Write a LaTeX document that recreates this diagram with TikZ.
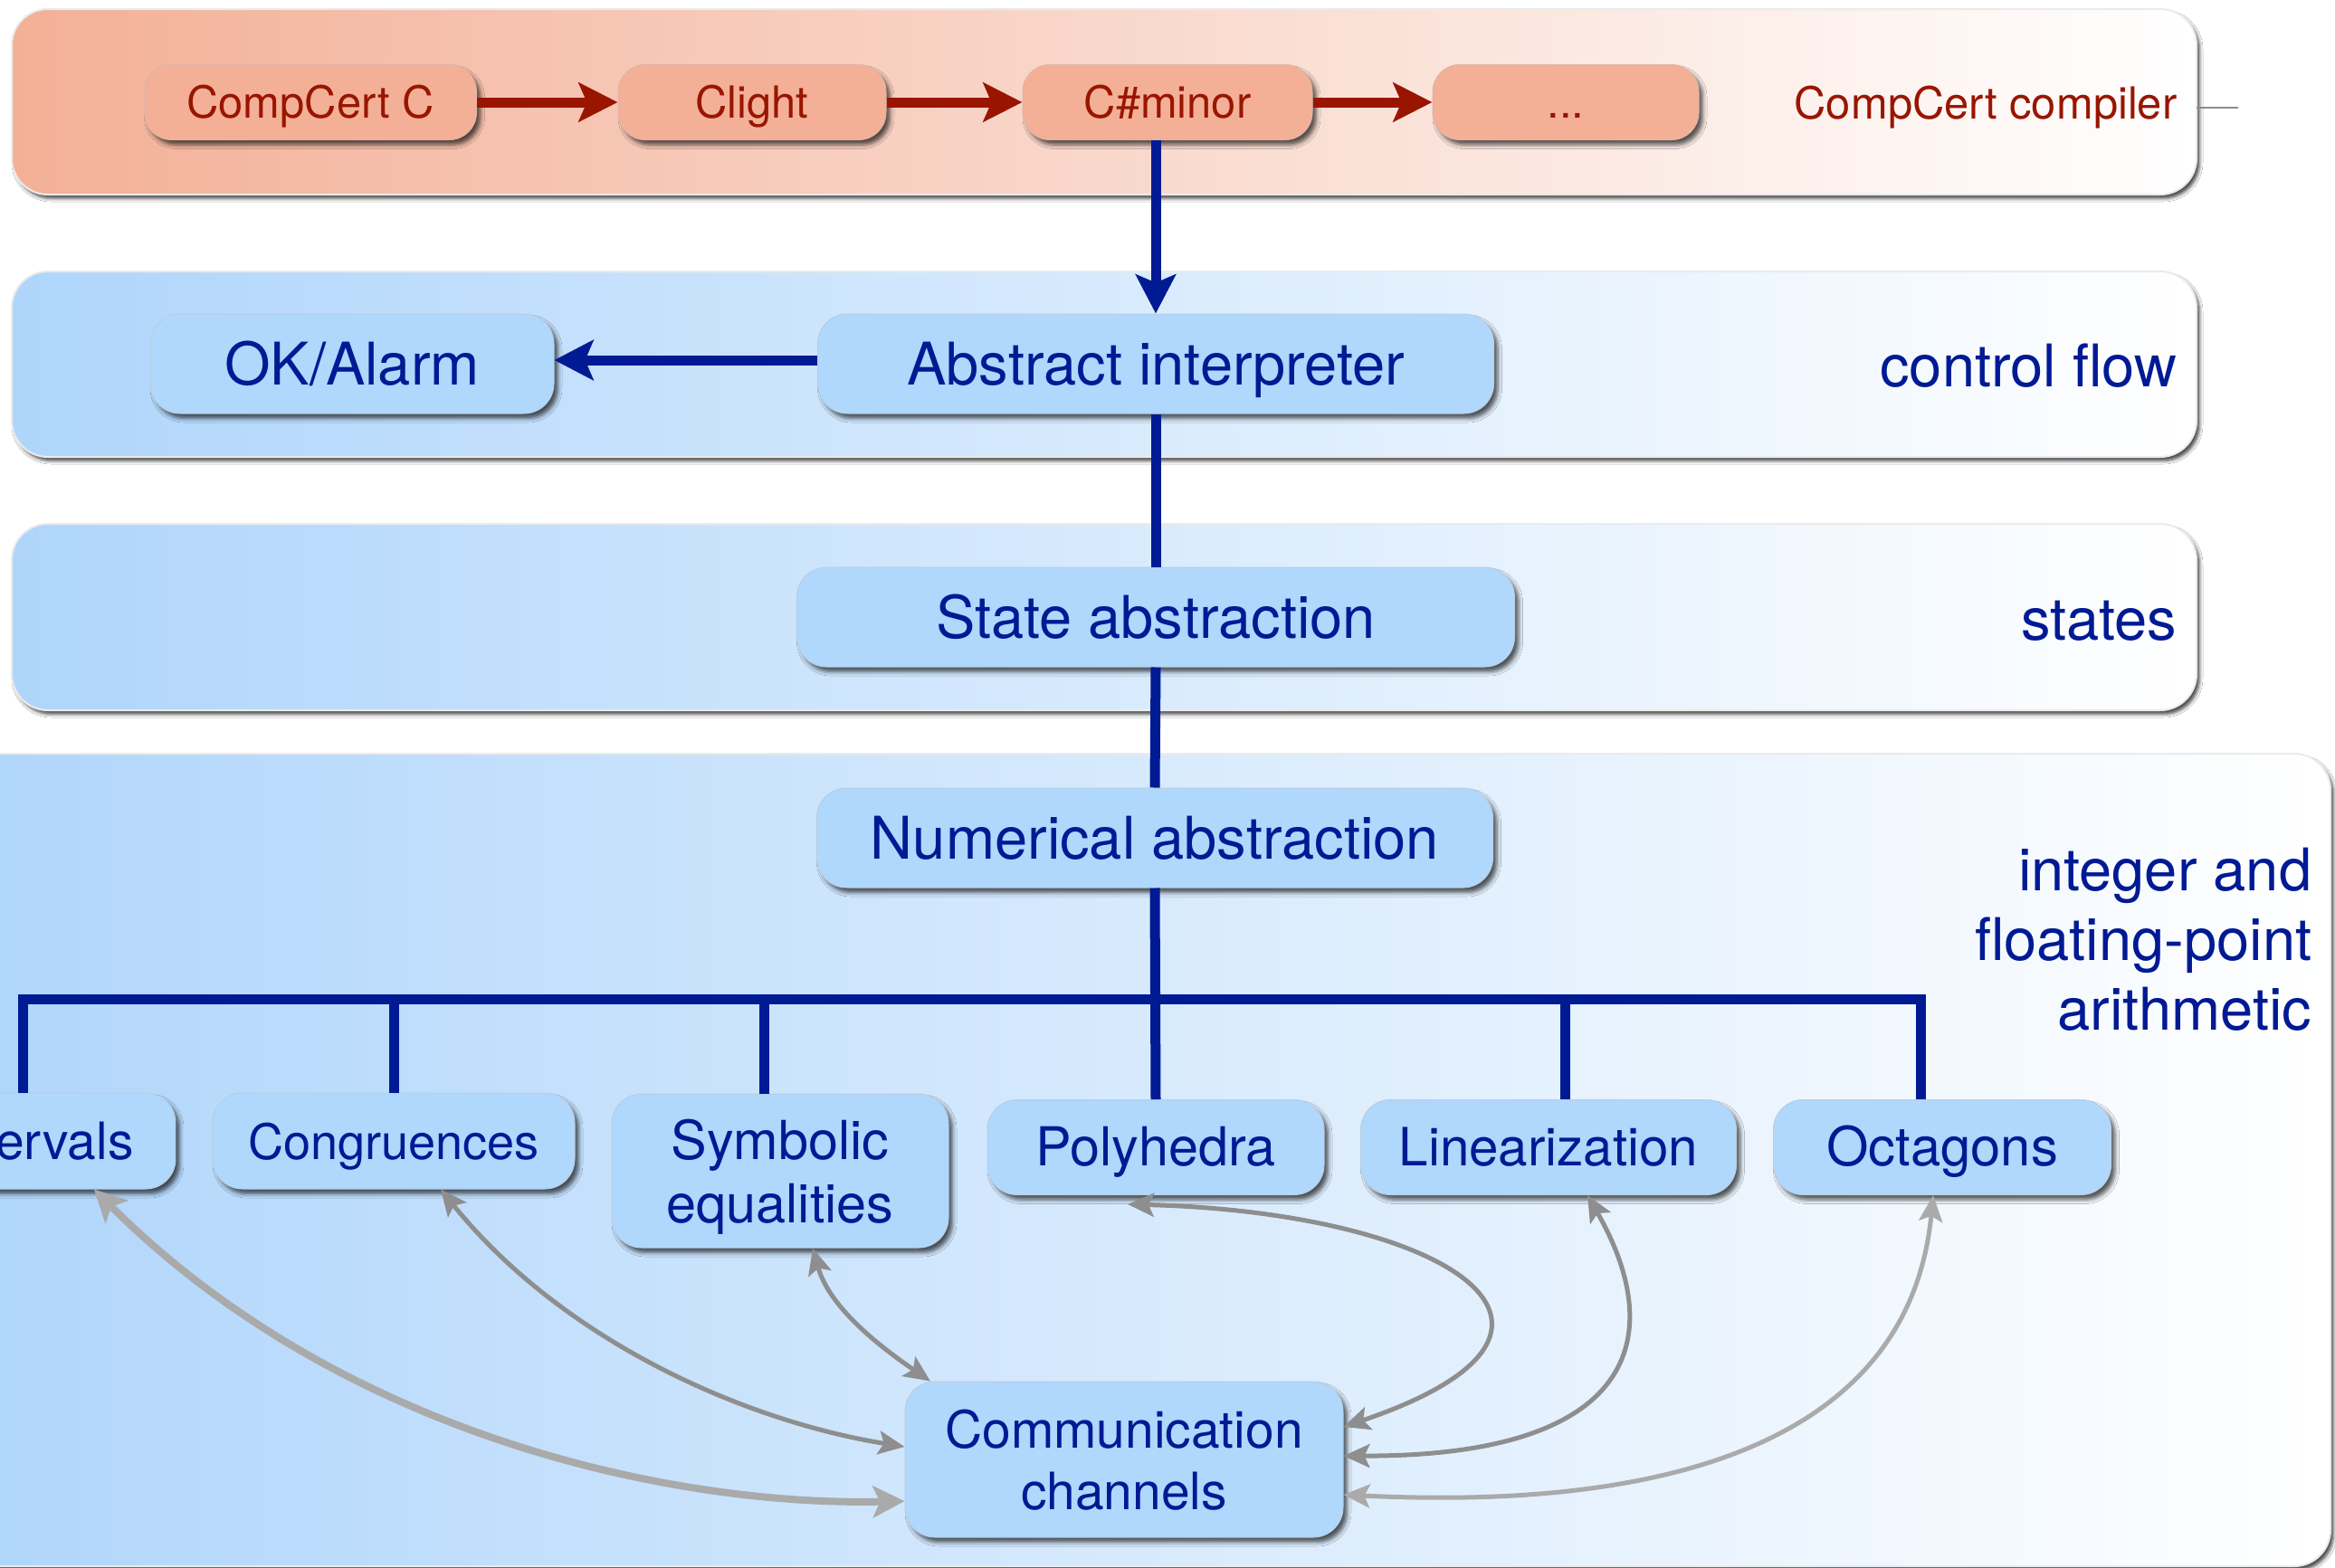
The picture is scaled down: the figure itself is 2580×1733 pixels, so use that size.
\documentclass[tikz,border=0pt]{standalone}
\usepackage{fontspec}
\setmainfont{TeX Gyre Heros}
\usetikzlibrary{arrows.meta,shadows.blur}

\definecolor{bandblue}{HTML}{AFD5FB}
\definecolor{nodeblue}{HTML}{B0D7FC}
\definecolor{inkblue}{HTML}{001A94}
\definecolor{salmon}{HTML}{F3B097}
\definecolor{inkred}{HTML}{991500}
\definecolor{linkdark}{HTML}{8E8E8E}
\definecolor{linklight}{HTML}{AAAAAA}

\newcommand\fsTop{\fontsize{13.9pt}{16pt}\selectfont}
\newcommand\fsMid{\fontsize{18.5pt}{22pt}\selectfont}
\newcommand\fsLowAt[1]{\fontsize{#1}{19.8pt}\selectfont}

\tikzset{
  layer/.style={rounded corners=4mm, draw=black!8, line width=0.2mm,
    right color=white,
    blur shadow={shadow xshift=0.35mm, shadow yshift=-0.45mm,
      shadow blur radius=0.35mm, shadow blur steps=4, shadow opacity=70}},
  boxbase/.style={rounded corners=3.3mm, inner sep=0pt, align=center, text depth=0pt,
    blur shadow={shadow xshift=0.45mm, shadow yshift=-0.55mm,
      shadow blur radius=0.45mm, shadow blur steps=4, shadow opacity=65}},
  twolines/.style={text height={}, text depth=0pt},
  passbox/.style={boxbase, fill=salmon, draw=salmon!85!black!70, line width=0.1mm,
    text=inkred, font=\fsTop, text height=10pt, minimum height=8.3mm, rounded corners=3mm},
  midbox/.style={boxbase, fill=nodeblue, draw=nodeblue!80!black!60, line width=0.1mm,
    text=inkblue, font=\fsMid, text height=13.3pt, minimum height=11mm},
  lowbox/.style={boxbase, fill=nodeblue, draw=nodeblue!80!black!60, line width=0.1mm,
    text=inkblue, font={\fsLowAt{16.2pt}}, text height=11.9pt, minimum height=10.6mm},
  tag/.style={anchor=east, inner sep=0pt, align=right, text depth=0pt},
  redflow/.style={draw=inkred, line width=1.1mm,
    -{Stealth[length=4.3mm, width=4.3mm, inset=0.9mm]}},
  blueflow/.style={draw=inkblue, line width=1.1mm},
  bluearrow/.style={blueflow, -{Stealth[length=4.3mm, width=4.4mm, inset=0.9mm]}},
  link/.style={draw=linkdark, line width=0.5mm,
    {Stealth[length=2.9mm, width=2.6mm, inset=0.6mm]}-{Stealth[length=2.9mm, width=2.6mm, inset=0.6mm]}},
  thicklink/.style={draw=linklight, line width=0.8mm,
    {Stealth[length=3.5mm, width=3.5mm, inset=0.8mm]}-{Stealth[length=3.5mm, width=3.5mm, inset=0.8mm]}},
}

\begin{document}
\begin{tikzpicture}[x=0.1mm, y=-0.1mm]
\useasboundingbox (0,0) rectangle (2580,1733);
\clip (0,0) rectangle (2580,1733);
\fill[white] (0,0) rectangle (2580,1733);

% the four layers
\path[layer, left color=salmon] (13,10) rectangle (2427,215);
\path[layer, left color=bandblue] (13,300) rectangle (2427,505);
\path[layer, left color=bandblue] (13,579) rectangle (2427,785);
\path[layer, left color=bandblue] (-60,833) rectangle (2575,1731);
\draw[black!45, line width=0.2mm] (2427,119) -- (2473,119);

% layer captions
\node[tag, text=inkred, font=\fsTop, text height=10pt] (capcc) at (2406,114) {CompCert compiler};
\node[tag, text=inkblue, font=\fsMid, text height=13.3pt] (capcf) at (2406,404) {control flow};
\node[tag, text=inkblue, font=\fsMid, text height=13.3pt] (capst) at (2406,684) {states};
\node[tag, text=inkblue, font=\fsMid, execute at begin node=\setlength{\baselineskip}{21.9pt}]
  (capar) at (2555,1038) {integer and\\floating-point\\arithmetic};

% compiler passes
\node[passbox, minimum width=36.7mm] (cc) at (343,113) {CompCert C};
\node[passbox, minimum width=29.6mm] (cl) at (831,113) {Clight};
\node[passbox, minimum width=32.0mm] (cm) at (1290,113) {C\#minor};
\node[passbox, minimum width=29.4mm] (etc) at (1730,113) {...};

% analyzer structure
\node[midbox, minimum width=44.6mm] (ok) at (389,402) {OK/Alarm};
\node[midbox, minimum width=74.7mm] (ai) at (1277,402) {Abstract interpreter};
\node[midbox, minimum width=79.3mm] (sa) at (1277,682) {State abstraction};
\node[midbox, minimum width=74.7mm] (na) at (1276,926) {Numerical abstraction};

% numerical domains
\node[lowbox, minimum width=30.8mm] (int) at (40,1261) {Intervals};
\node[lowbox, minimum width=40.0mm, font={\fsLowAt{15.4pt}}] (cong) at (435,1261) {Congruences};
\node[lowbox, twolines, minimum width=37.2mm, minimum height=17mm, font={\fsLowAt{16.9pt}},
  execute at begin node=\setlength{\baselineskip}{20pt}] (sym) at (862,1294) {Symbolic\\equalities};
\node[lowbox, minimum width=37.2mm, minimum height=10.5mm, font={\fsLowAt{16.9pt}}] (poly) at (1277,1268) {Polyhedra};
\node[lowbox, minimum width=41.5mm, minimum height=10.5mm, font={\fsLowAt{16.6pt}}] (lin) at (1711,1268) {Linearization};
\node[lowbox, minimum width=37.3mm, minimum height=10.5mm, font={\fsLowAt{17pt}}] (oct) at (2146,1268) {Octagons};
\node[lowbox, twolines, minimum width=48.4mm, minimum height=17.2mm,
  execute at begin node=\setlength{\baselineskip}{19.2pt}] (comm) at (1242,1613) {Communication\\channels};

% compiler pipeline
\draw[redflow] (cc.east) -- (cl.west);
\draw[redflow] (cl.east) -- (cm.west);
\draw[redflow] (cm.east) -- (etc.west);

% control links
\draw[bluearrow] (cm.south -| ai.north) -- (ai.north);
\draw[bluearrow] ([yshift=0.4mm]ai.west) -- ([yshift=0.4mm]ok.east);
\draw[blueflow] (ai.south) -- (sa.north);
\draw[blueflow] (sa.south) -- (na.north);
\draw[blueflow] (na.south) -- (poly.north);

% distribution bus to the domains
\coordinate (b1) at (25,1104);
\coordinate (b2) at (435,1104);
\coordinate (b3) at (844,1104);
\coordinate (b5) at (1729,1104);
\coordinate (b6) at (2122,1104);
\draw[blueflow, line join=miter] (b1 |- int.north) -- (b1) -- (b6) -- (b6 |- oct.north);
\draw[blueflow] (b2) -- (b2 |- cong.north);
\draw[blueflow] (b3) -- (b3 |- sym.north);
\draw[blueflow] (b5) -- (b5 |- lin.north);

% exchanges through the communication channels
\draw[thicklink] ([xshift=6.4mm]int.south) .. controls (380,1590) and (750,1665) .. ([yshift=-4.6mm]comm.west);
\draw[link] ([xshift=5.2mm]cong.south) .. controls (620,1480) and (820,1570) .. ([yshift=1.4mm]comm.west);
\draw[link] ([xshift=3.6mm]sym.south) .. controls (915,1440) and (960,1480) .. ([xshift=-21.4mm]comm.north);
\draw[link] ([xshift=-3.1mm,yshift=-1mm]poly.south) .. controls (1600,1340) and (1800,1470) .. ([yshift=3.6mm]comm.east);
\draw[link] ([xshift=4.3mm]lin.south) .. controls (1845,1480) and (1805,1610) .. ([yshift=0.4mm]comm.east);
\draw[link, draw=linklight] ([xshift=-1mm]oct.south) .. controls (2110,1590) and (1850,1670) .. ([yshift=-3.9mm]comm.east);
\end{tikzpicture}
\end{document}
